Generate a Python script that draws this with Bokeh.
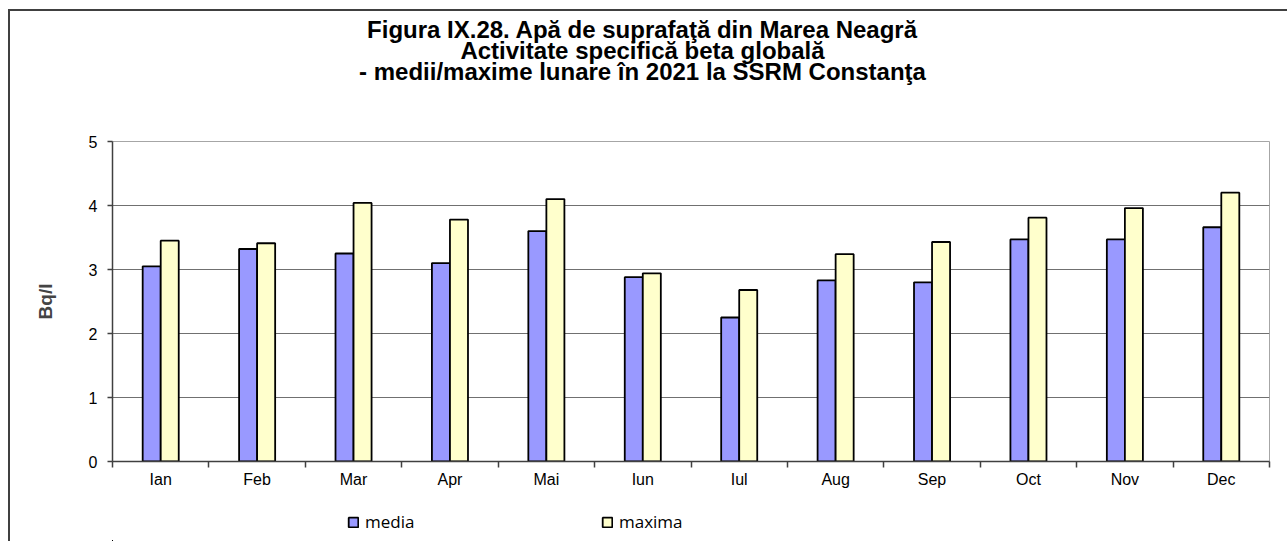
from bokeh.plotting import figure
from bokeh.layouts import column
from bokeh.models import (ColumnDataSource, FixedTicker, Legend, LegendItem, Range1d, Title)
from bokeh.transform import dodge
from bokeh.embed import file_html
from bokeh.resources import INLINE
import numpy as np

months = ["Ian", "Feb", "Mar", "Apr", "Mai", "Iun", "Iul", "Aug", "Sep", "Oct", "Nov", "Dec"]
media = [3.05, 3.32, 3.25, 3.10, 3.60, 2.88, 2.25, 2.83, 2.80, 3.47, 3.47, 3.66]
maxima = [3.45, 3.41, 4.04, 3.78, 4.10, 2.94, 2.68, 3.24, 3.43, 3.81, 3.96, 4.20]
y_ticks = [0, 1, 2, 3, 4, 5]
series_names = ["media", "maxima"]
title_lines = [
    "Figura IX.28. Apă de suprafaţă din Marea Neagră",
    "Activitate specifică beta globală",
    "- medii/maxime lunare în 2021 la SSRM Constanţa",
]
y_label = "Bq/l"

# layout constants (pixels)
W, H = 1277, 490
LEG_H = 40
ML, MR, MT, MB = 102, 18, 130, 40
FW, FH = W - ML - MR, 320
TITLE_FS = 24
TITLE_EM = [22.952, 15.172, 23.619]   # Arial-bold advance widths of the lines, in em
TITLE_CENTER = 632                     # canvas x of the title centre
n = len(months)
xs = np.arange(n) + 0.5

p = figure(width=W, height=H, frame_width=FW, frame_height=FH,
           x_range=Range1d(0, n), y_range=Range1d(0, 5),
           output_backend="svg", toolbar_location=None,
           min_border_left=ML, min_border_right=MR, min_border_top=MT, min_border_bottom=MB)
p.background_fill_color = "white"
p.border_fill_color = "white"
p.outline_line_color = "#a6a6a6"
p.outline_line_width = 1

src = ColumnDataSource(dict(x=xs, media=media, maxima=maxima, month=months))
bw = 0.187
bar_style = [dict(fill_color="#9999FF", line_color="black", line_width=1.8),
             dict(fill_color="#FFFFCC", line_color="black", line_width=1.8)]
r1 = p.vbar(x=dodge("x", -bw / 2, range=p.x_range), top="media", width=bw, source=src,
            **bar_style[0])
r2 = p.vbar(x=dodge("x", bw / 2, range=p.x_range), top="maxima", width=bw, source=src,
            **bar_style[1])

# axes
xa = p.xaxis[0]
xa.ticker = FixedTicker(ticks=list(xs), minor_ticks=list(range(n + 1)))
xa.major_label_overrides = {float(v): m for v, m in zip(xs, months)}
xa.major_tick_line_color = None
xa.major_tick_out = 5
xa.major_tick_in = 0
xa.minor_tick_in = 0
xa.minor_tick_out = 6
xa.minor_tick_line_color = "#404040"
xa.minor_tick_line_width = 1.5
xa.axis_line_color = "#404040"
xa.axis_line_width = 1.5
xa.major_label_standoff = 3
xa.major_label_text_font = "Liberation Sans"
xa.major_label_text_font_size = "16px"
xa.major_label_text_color = "black"

ya = p.yaxis[0]
ya.ticker = FixedTicker(ticks=y_ticks)
ya.minor_tick_line_color = None
ya.major_tick_in = 0
ya.major_tick_out = 5
ya.major_tick_line_color = "#404040"
ya.major_tick_line_width = 1.5
ya.axis_line_color = "#404040"
ya.axis_line_width = 1.5
ya.major_label_standoff = 10
ya.major_label_text_font = "Liberation Sans"
ya.major_label_text_font_size = "16px"
ya.major_label_text_color = "black"
ya.axis_label = y_label
ya.axis_label_text_font = "Liberation Sans"
ya.axis_label_text_font_style = "bold"
ya.axis_label_text_font_size = "19px"
ya.axis_label_standoff = 30

p.xgrid.visible = False
p.ygrid.grid_line_color = "#707070"
p.ygrid.grid_line_width = 1

# title: spacer next to the frame, then the three lines going upwards
p.add_layout(Title(text=" ", text_font_size="10px", standoff=47), "above")
for em, line in reversed(list(zip(TITLE_EM, title_lines))):
    left = TITLE_CENTER - em * TITLE_FS / 2 - ML
    p.add_layout(Title(text=line, align="left", offset=left, vertical_align="middle",
                       standoff=-8, text_font="Liberation Sans", text_font_style="bold",
                       text_font_size=f"{TITLE_FS}px", text_color="black"), "above")

# legend strip below the chart: its bars lie far outside its view in both x and y,
# so only the legend (which takes its swatches from these renderers) is drawn
pl = figure(width=W, height=LEG_H, x_range=Range1d(100, 100 + n), y_range=Range1d(100, 101),
            output_backend="svg", toolbar_location=None, x_axis_type=None, y_axis_type=None,
            min_border_left=0, min_border_right=0, min_border_top=0, min_border_bottom=0)
pl.outline_line_color = None
pl.grid.visible = False
pl.background_fill_color = "white"
pl.border_fill_color = "white"
lr1 = pl.vbar(x=dodge("x", -bw / 2, range=pl.x_range), top="media", width=bw, source=src,
              **bar_style[0])
lr2 = pl.vbar(x=dodge("x", bw / 2, range=pl.x_range), top="maxima", width=bw, source=src,
              **bar_style[1])
legend = Legend(items=[LegendItem(label=series_names[0], renderers=[lr1]),
                       LegendItem(label=series_names[1], renderers=[lr2])],
                location=(235, 8), orientation="horizontal",
                glyph_width=12, glyph_height=12, label_standoff=6, label_width=236,
                label_height=12, spacing=0, padding=0, margin=0,
                border_line_color=None, background_fill_alpha=0,
                label_text_font="Open Sans", label_text_font_size="17px",
                label_text_color="black")
pl.add_layout(legend)

root = column(p, pl, spacing=0)
root.styles = {"margin-left": "8px", "margin-top": "9px",
               "border-left": "2px solid #404040", "border-top": "2px solid #404040"}

open("out.html", "w").write(file_html(root, INLINE))
